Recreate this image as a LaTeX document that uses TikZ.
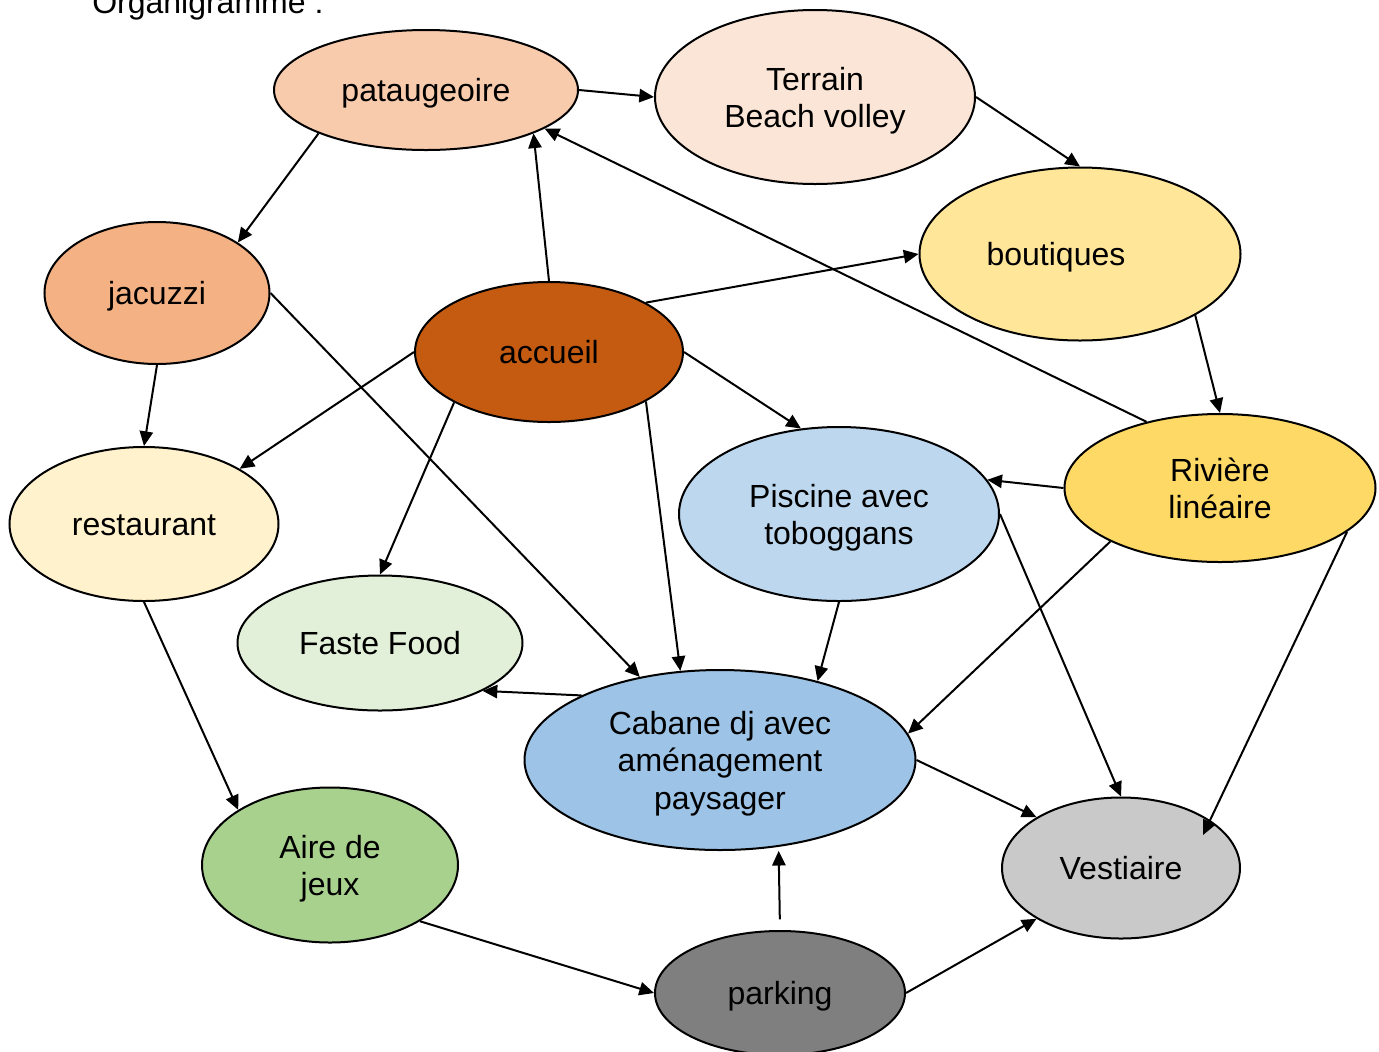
\documentclass[tikz,border=0pt]{standalone}
\usepackage{fontspec}
\setmainfont{Liberation Sans}
\usetikzlibrary{shapes.geometric,arrows.meta}
\definecolor{cPat}{HTML}{F8CBAD}
\definecolor{cTer}{HTML}{FBE5D6}
\definecolor{cBou}{HTML}{FFE699}
\definecolor{cJac}{HTML}{F4B183}
\definecolor{cAcc}{HTML}{C55A11}
\definecolor{cRiv}{HTML}{FFD966}
\definecolor{cPis}{HTML}{BDD7EE}
\definecolor{cRes}{HTML}{FFF2CC}
\definecolor{cFF}{HTML}{E2F0D9}
\definecolor{cCab}{HTML}{9DC3E6}
\definecolor{cAir}{HTML}{A9D18E}
\definecolor{cVes}{HTML}{C9C9C9}
\definecolor{cPark}{HTML}{7F7F7F}
\begin{document}
\begin{tikzpicture}[x=0.75pt,y=-0.75pt,
  bub/.style={ellipse,draw=black,line width=1.5pt,inner sep=0pt,align=center,
    font=\fontsize{24}{28}\selectfont,text height=20pt,text depth=2.5pt},
  twoline/.style={text height=48pt},
  threeline/.style={text height=76pt},
  arr/.style={line width=1.5pt,-{Triangle[length=11pt,width=10pt]}}]
\clip (0,0) rectangle (1379,1051);
\fill[white] (0,0) rectangle (1379,1051);
\node[anchor=base west,inner sep=0pt,font=\fontsize{24}{28}\selectfont] (title) at (92,13) {Organigramme :};
\node[bub,fill=cPat,minimum width=228pt,minimum height=90pt] (pat) at (426,90) {pataugeoire};
\node[bub,twoline,fill=cTer,minimum width=240pt,minimum height=130.5pt] (ter) at (815,97) {Terrain\\Beach volley};
\node[bub,fill=cBou,minimum width=240.75pt,minimum height=129.75pt] (bou) at (1080,254) {boutiques\hspace*{36pt}};
\node[bub,fill=cJac,minimum width=168.75pt,minimum height=106.5pt] (jac) at (157,293) {jacuzzi};
\node[bub,fill=cAcc,minimum width=201pt,minimum height=105pt] (acc) at (549,352) {accueil};
\node[bub,twoline,fill=cRiv,minimum width=233.25pt,minimum height=111pt] (riv) at (1220,488) {Rivière\\linéaire};
\node[bub,twoline,fill=cPis,minimum width=240pt,minimum height=130.5pt] (pis) at (839,514) {Piscine avec\\toboggans};
\node[bub,fill=cRes,minimum width=201.75pt,minimum height=115.5pt] (res) at (144,524) {restaurant};
\node[bub,fill=cFF,minimum width=213.75pt,minimum height=101.25pt] (ff) at (380,643) {Faste Food};
\node[bub,threeline,fill=cCab,minimum width=293.25pt,minimum height=135pt] (cab) at (720,760) {Cabane dj avec\\aménagement\\paysager};
\node[bub,twoline,fill=cAir,minimum width=192pt,minimum height=116.25pt] (aire) at (330,865) {Aire de\\jeux};
\node[bub,fill=cVes,minimum width=178.5pt,minimum height=105.75pt] (ves) at (1121,868) {Vestiaire};
\node[bub,fill=cPark,minimum width=187.5pt,minimum height=93pt] (park) at (780,993) {parking};
\coordinate (rv) at (1203,835);
\draw[arr] (pat.0) -- (ter.180);
\draw[arr] (pat.-158) -- (jac.32);
\draw[arr] (ter.0) -- (bou.90);
\draw[arr] (acc.90) -- (pat.-22);
\draw[arr] (riv.138) -- (pat.-18);
\draw[arr] (acc.27.5) -- (bou.180);
\draw[arr] (bou.-28) -- (riv.90);
\draw[arr] (jac.-90) -- (res.90);
\draw[arr] (jac.0) -- (cab.134);
\draw[arr] (acc.180) -- (res.30);
\draw[arr] (acc.-152) -- (ff.90);
\draw[arr] (acc.0) -- (pis.114);
\draw[arr] (acc.-27.5) -- (cab.114);
\draw[arr] (riv.180) -- (pis.13);
\draw[arr] (pis.-90) -- (cab.39);
\draw[arr] (pis.0) -- (ves.90);
\draw[arr] (riv.206) -- (cab.8);
\draw[arr] (riv.-19) -- (rv);
\draw[arr] (cab.155) -- (ff.-25);
\draw[arr] (cab.0) -- (ves.149);
\draw[arr] (res.-90) -- (aire.149);
\draw[arr] (aire.-32) -- (park.180);
\draw[arr,shorten <=8pt,shorten >=3pt] (park.north) -- (cab.-56);
\draw[arr] (park.0) -- (ves.211);
\end{tikzpicture}
\end{document}
